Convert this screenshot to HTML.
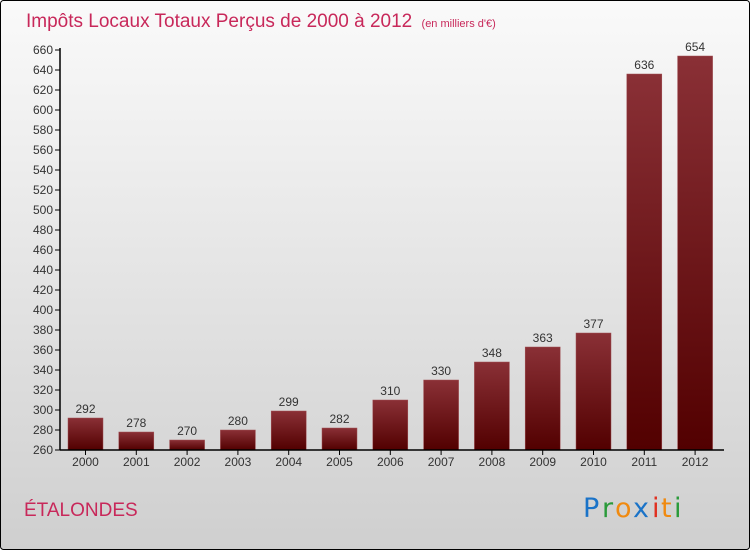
<!DOCTYPE html>
<html><head><meta charset="utf-8"><style>
html,body{margin:0;padding:0}
body{width:750px;height:550px;overflow:hidden;font-family:"Liberation Sans",sans-serif}
</style></head><body>
<svg width="750" height="550" viewBox="0 0 750 550" xmlns="http://www.w3.org/2000/svg">
<defs>
<linearGradient id="bg" x1="0" y1="0" x2="0" y2="1"><stop offset="0" stop-color="#fafafa"/><stop offset="1" stop-color="#cfcfcf"/></linearGradient>
<linearGradient id="bar" x1="0" y1="0" x2="0" y2="1"><stop offset="0" stop-color="#8a3036"/><stop offset="1" stop-color="#520000"/></linearGradient>
</defs>
<rect x="0.5" y="0.5" width="749" height="549" rx="3" fill="url(#bg)" stroke="#000"/>
<text x="26" y="27" font-size="19" fill="#c8285a">Impôts Locaux Totaux Perçus de 2000 à 2012 <tspan font-size="11" dx="4">(en milliers d'€)</tspan></text>
<g id="yaxis"></g>
<g id="bars"></g>
<line x1="60" y1="450" x2="724" y2="450" stroke="#000" stroke-width="1.5"/>
<line x1="60" y1="48" x2="60" y2="450" stroke="#000" stroke-width="1.5"/>
<text x="24" y="516" font-size="19" fill="#c8285a">ÉTALONDES</text>
<g font-size="27" font-family="'DejaVu Sans',sans-serif">
<text x="583" y="517" fill="#1a73c8">P</text><text x="602" y="517" fill="#2a9a3a">r</text><text x="615" y="517" fill="#f08a10">o</text><text x="633" y="517" fill="#1a73c8">x</text><text x="652" y="517" fill="#e03020">i</text><text x="661" y="517" fill="#f08a10">t</text><text x="674" y="517" fill="#2a9a3a">i</text>
</g>
</svg>
<script>
const categories=["2000","2001","2002","2003","2004","2005","2006","2007","2008","2009","2010","2011","2012"];
const values=[292,278,270,280,299,282,310,330,348,363,377,636,654];
const yTicks=[260,280,300,320,340,360,380,400,420,440,460,480,500,520,540,560,580,600,620,640,660];
const NS="http://www.w3.org/2000/svg";
const y=v=>450-(v-260)*(400/400);
const x=i=>85.5+i*50.8;
const ya=document.getElementById('yaxis'),bg=document.getElementById('bars');
function mk(t,a,p){const e=document.createElementNS(NS,t);for(const k in a)e.setAttribute(k,a[k]);p.appendChild(e);return e;}
yTicks.forEach(t=>{
 const l=mk('line',{x1:55,x2:60,y1:y(t),y2:y(t),stroke:'#000'},ya);
 
 
 const tx=mk('text',{x:53,y:y(t)+4,'text-anchor':'end','font-size':12,fill:'#333'},ya);
 tx.textContent=t;
 
 
});
categories.forEach((c,i)=>{
 const r=mk('rect',{x:x(i)-17.5,y:y(values[i]),width:35,height:450-y(values[i]),fill:'url(#bar)',stroke:'#a05055','stroke-width':0.5},bg);
 
 
 const v=mk('text',{x:x(i),y:y(values[i])-5,'text-anchor':'middle','font-size':12,fill:'#333'},bg);
 v.textContent=values[i];
 
 
 const tk=mk('line',{x1:x(i),x2:x(i),y1:450,y2:455,stroke:'#000'},bg);
 
 
 const cl=mk('text',{x:x(i),y:466,'text-anchor':'middle','font-size':12,fill:'#333'},bg);
 cl.textContent=c;
 
 
});
</script>
</body></html>
